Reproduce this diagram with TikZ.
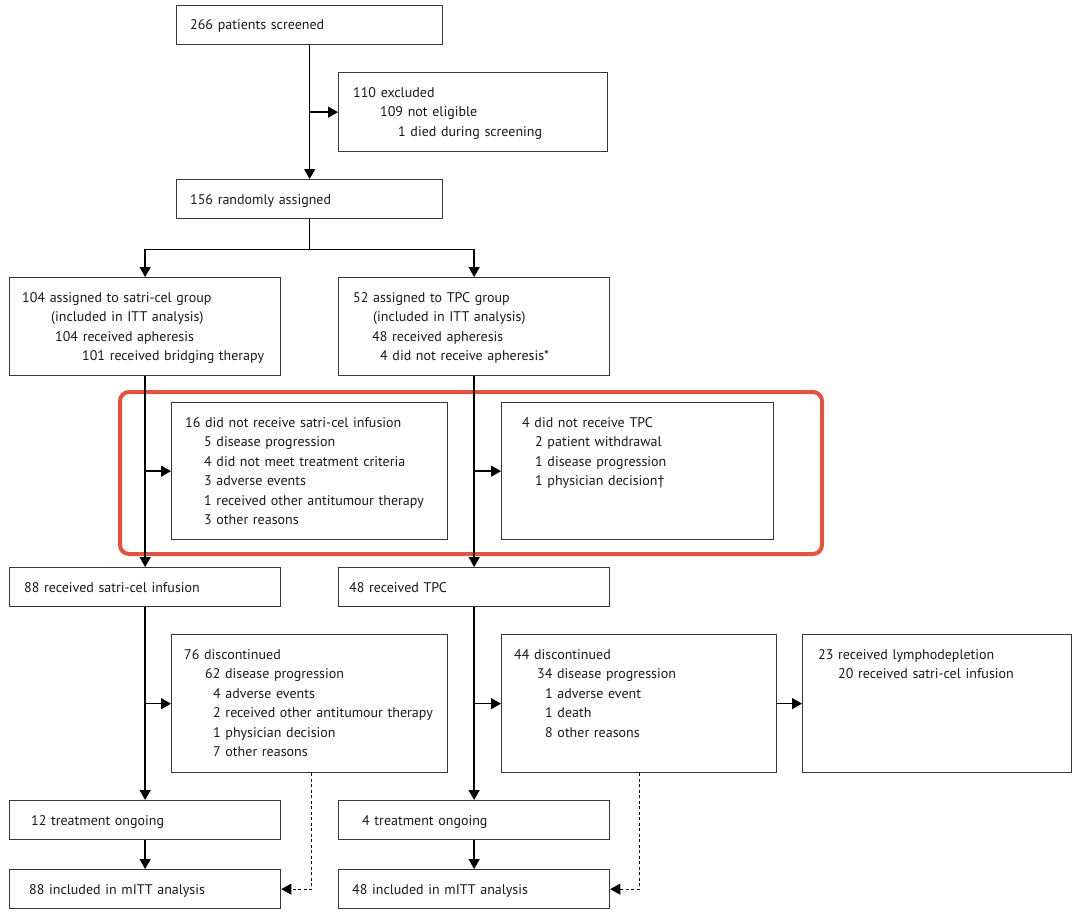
\documentclass[tikz,border=0pt]{standalone}
\usepackage{fontspec}
\setmainfont{PT Sans}
\usetikzlibrary{arrows.meta,calc}
\definecolor{boxc}{RGB}{55,55,55}
\definecolor{textc}{RGB}{25,25,25}
\definecolor{hlred}{RGB}{224,84,68}
\begin{document}
\begin{tikzpicture}[x=1pt,y=-1pt,
  box/.style={draw=boxc, line width=1.3pt, inner sep=0pt, anchor=north west, fill=white},
  txt/.style={inner sep=0pt, anchor=base west, text width=320pt, align=left, text=textc,
              font=\fontsize{14}{19.5}\selectfont},
  arr/.style={-{Triangle[length=10pt,width=11pt]}, line width=1.4pt, draw=black},
  ln/.style={line width=1.4pt, draw=black},
  darr/.style={-{Triangle[length=10pt,width=11pt]}, line width=1.1pt, draw=black,
               dash pattern=on 3pt off 2.5pt},
  hl/.style={draw=hlred, line width=4pt, rounded corners=9pt, inner sep=0pt, anchor=north west}]
\useasboundingbox (0,0) rectangle (1080,918);
\fill[white] (0,0) rectangle (1080,918);

% highlight frame
\node[hl, minimum width=702, minimum height=162] (hlbox) at (118,390) {};

% boxes
\node[box, minimum width=266, minimum height=39] (A) at (176,5) {};
\node[box, minimum width=269, minimum height=79] (B) at (338,72) {};
\node[box, minimum width=266, minimum height=39] (C) at (176,179) {};
\node[box, minimum width=271, minimum height=98] (D) at (9,277) {};
\node[box, minimum width=271, minimum height=98] (E) at (338,277) {};
\node[box, minimum width=276, minimum height=137] (F) at (171,402) {};
\node[box, minimum width=272, minimum height=137] (G) at (501,402) {};
\node[box, minimum width=271, minimum height=39] (H) at (9,567) {};
\node[box, minimum width=271, minimum height=39] (I) at (338,567) {};
\node[box, minimum width=276, minimum height=138] (J) at (171,634) {};
\node[box, minimum width=275, minimum height=138] (K) at (501,634) {};
\node[box, minimum width=269, minimum height=138] (L) at (802,634) {};
\node[box, minimum width=271, minimum height=39] (M) at (9,800) {};
\node[box, minimum width=271, minimum height=39] (N) at (338,800) {};
\node[box, minimum width=271, minimum height=39] (O) at (9,869) {};
\node[box, minimum width=271, minimum height=39] (P) at (338,869) {};

% texts
\node[txt] (tA) at ($(A.north west)+(14,25)$) {266 patients screened};
\node[txt] (tB) at ($(B.north west)+(15,25)$) {110 excluded\\\hspace*{27pt}109 not eligible\\\hspace*{45pt}1 died during screening};
\node[txt] (tC) at ($(C.north west)+(14,25)$) {156 randomly assigned};
\node[txt] (tD) at ($(D.north west)+(13,25)$) {104 assigned to satri-cel group\\\hspace*{29pt}(included in ITT analysis)\\\hspace*{33pt}104 received apheresis\\\hspace*{60pt}101 received bridging therapy};
\node[txt] (tE) at ($(E.north west)+(15,25)$) {52 assigned to TPC group\\\hspace*{20pt}(included in ITT analysis)\\\hspace*{19pt}48 received apheresis\\\hspace*{27pt}4 did not receive apheresis*};
\node[txt] (tF) at ($(F.north west)+(14,25)$) {16 did not receive satri-cel infusion\\\hspace*{19pt}5 disease progression\\\hspace*{19pt}4 did not meet treatment criteria\\\hspace*{19pt}3 adverse events\\\hspace*{19pt}1 received other antitumour therapy\\\hspace*{19pt}3 other reasons};
\node[txt] (tG) at ($(G.north west)+(21,25)$) {4 did not receive TPC\\\hspace*{13pt}2 patient withdrawal\\\hspace*{13pt}1 disease progression\\\hspace*{13pt}1 physician decision†};
\node[txt] (tH) at ($(H.north west)+(15,25)$) {88 received satri-cel infusion};
\node[txt] (tI) at ($(I.north west)+(11,25)$) {48 received TPC};
\node[txt] (tJ) at ($(J.north west)+(13,25)$) {76 discontinued\\\hspace*{21pt}62 disease progression\\\hspace*{29pt}4 adverse events\\\hspace*{29pt}2 received other antitumour therapy\\\hspace*{29pt}1 physician decision\\\hspace*{29pt}7 other reasons};
\node[txt] (tK) at ($(K.north west)+(13,25)$) {44 discontinued\\\hspace*{23pt}34 disease progression\\\hspace*{31pt}1 adverse event\\\hspace*{31pt}1 death\\\hspace*{31pt}8 other reasons};
\node[txt] (tL) at ($(L.north west)+(16,25)$) {23 received lymphodepletion\\\hspace*{20pt}20 received satri-cel infusion};
\node[txt] (tM) at ($(M.north west)+(22,25)$) {12 treatment ongoing};
\node[txt] (tN) at ($(N.north west)+(24,25)$) {4 treatment ongoing};
\node[txt] (tO) at ($(O.north west)+(20,25)$) {88 included in mITT analysis};
\node[txt] (tP) at ($(P.north west)+(14,25)$) {48 included in mITT analysis};

% connectors
\draw[arr] (A.south) -- (C.north);
\draw[arr] (A.south |- B.west) -- (B.west);

\coordinate (split) at ($(C.south)+(0,30)$);
\draw[ln] (C.south) -- (split);
\draw[arr] (split -| D.north) -- (D.north);
\draw[arr] (split -| E.north) -- (E.north);
\draw[ln] (split -| D.north) -- (split -| E.north);

\draw[arr] (D.south) -- (H.north);
\draw[arr] (D.south |- F.west) -- (F.west);
\draw[arr] (E.south) -- (I.north);
\draw[arr] (E.south |- G.west) -- (G.west);

\draw[arr] (H.south) -- (M.north);
\draw[arr] (H.south |- J.west) -- (J.west);
\draw[arr] (I.south) -- (N.north);
\draw[arr] (I.south |- K.west) -- (K.west);
\draw[arr] (K.east) -- (L.west);

\draw[arr] (M.south) -- (O.north);
\draw[arr] (N.south) -- (P.north);

\coordinate (jd) at ([xshift=2pt]J.south);
\draw[darr] (jd) -- (jd |- O.east) -- (O.east);
\draw[darr] (K.south) -- (K.south |- P.east) -- (P.east);
\end{tikzpicture}
\end{document}
